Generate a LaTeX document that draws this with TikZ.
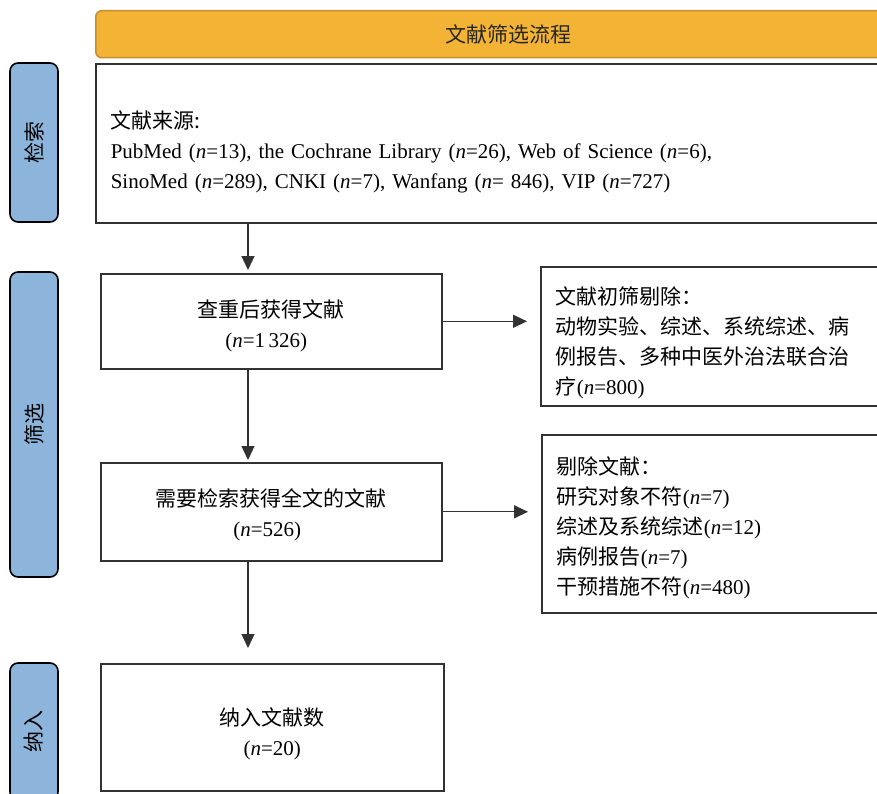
\documentclass[tikz,border=0pt]{standalone}
\usepackage{fontspec}
\setmainfont{Liberation Serif}
\newfontfamily\cjk{Noto Sans CJK SC}
\usetikzlibrary{arrows.meta}

\definecolor{bannerfill}{RGB}{243,179,52}
\definecolor{bannerline}{RGB}{196,142,48}
\definecolor{stagefill}{RGB}{141,181,219}
\definecolor{boxline}{RGB}{50,50,50}

% Chinese text in the CJK family, Latin text stays in the serif.
\newcommand{\zh}[1]{{\cjk #1}}

\tikzset{
    stagebar/.style={draw=black, line width=1.6pt, fill=stagefill, rounded corners=8pt, rotate=90, minimum height=48pt, inner sep=0pt, font=\fontsize{21}{30}\selectfont\cjk},
    flowbox/.style={draw=boxline, line width=1.6pt, fill=white, anchor=north west, inner sep=0pt, align=center, font=\fontsize{21}{30}\selectfont},
    notebox/.style={draw=boxline, line width=1.6pt, fill=white, anchor=north west, inner xsep=15pt, inner ysep=0pt, align=left, font=\fontsize{21}{30}\selectfont},
    flowarrow/.style={draw=boxline, line width=1.3pt, -{Triangle[length=14pt,width=13pt]}},
}

\begin{document}
\begin{tikzpicture}[x=1pt,y=-1pt]
    \useasboundingbox (0,0) rectangle (877,794);
    \clip (0,0) rectangle (877,794);

    % Define the macro.
    % 1st argument: Name of the stage bar.
    % 2nd argument: Top edge of the bar.
    % 3rd argument: Bottom edge of the bar.
    % 4th argument: Label, read from bottom to top.
    \newcommand{\stageBar}[4]{
        \node[stagebar, minimum width={#3-#2}] (#1) at (34,{(#2+#3)/2}) {#4};
    }

    % HEADER
    \node[draw=bannerline, line width=1.5pt, fill=bannerfill, rounded corners=6pt, anchor=north west,
          minimum width=826pt, minimum height=47pt, text=black!85,
          font=\fontsize{21}{30}\selectfont\cjk] (banner) at (95,10) {文献筛选流程};

    % STAGES
    \stageBar{search}{63}{222}{检索}
    \stageBar{screen}{272}{577}{筛选}
    \stageBar{include}{663}{800}{纳入}

    % SEARCH
    \node[notebox, text width=800pt, minimum height=159pt] (source) at (95,63)
        {\rule{0pt}{34pt}\zh{文献来源:}\\
         PubMed (\textit{n}=13), the Cochrane Library (\textit{n}=26), Web of Science (\textit{n}=6),\\
         SinoMed (\textit{n}=289), CNKI (\textit{n}=7), Wanfang (\textit{n}= 846), VIP (\textit{n}=727)};

    % SCREENING
    \node[flowbox, minimum width=341pt, minimum height=95pt] (dedup) at (100,273)
        {\rule{0pt}{27pt}\zh{查重后获得文献}\\(\textit{n}=1\,326)\hspace*{10pt}};
    \node[flowbox, minimum width=341pt, minimum height=98pt] (fulltext) at (100,462)
        {\rule{0pt}{23pt}\zh{需要检索获得全文的文献}\\(\textit{n}=526)\hspace*{8pt}};
    \node[notebox, text width=330pt, minimum height=139pt] (exclA) at (540,266)
        {\rule{0pt}{31pt}\zh{文献初筛剔除：}\\
         \zh{动物实验、综述、系统综述、病}\\
         \zh{例报告、多种中医外治法联合治}\\
         \zh{疗}(\textit{n}=800)};
    \node[notebox, text width=330pt, minimum height=178pt] (exclB) at (541,434)
        {\rule{0pt}{25pt}\zh{剔除文献：}\\
         \zh{研究对象不符}(\textit{n}=7)\\
         \zh{综述及系统综述}(\textit{n}=12)\\
         \zh{病例报告}(\textit{n}=7)\\
         \zh{干预措施不符}(\textit{n}=480)};

    % INCLUDED
    \node[flowbox, minimum width=343pt, minimum height=127pt] (included) at (100,663)
        {\rule{0pt}{31pt}\zh{纳入文献数}\\(\textit{n}=20)};

    % ARROWS
    \coordinate (spine) at (248,0);
    \draw[flowarrow, shorten >=3pt] (source.south -| spine) -- (dedup.north -| spine);
    \draw[flowarrow, shorten >=2pt] (dedup.south -| spine) -- (fulltext.north -| spine);
    \draw[flowarrow, shorten >=15pt] (fulltext.south -| spine) -- (included.north -| spine);
    \draw[flowarrow, shorten >=13pt] (dedup.east) -- (dedup.east -| exclA.west);
    \draw[flowarrow, shorten >=13pt] (fulltext.east) -- (fulltext.east -| exclB.west);
\end{tikzpicture}
\end{document}
